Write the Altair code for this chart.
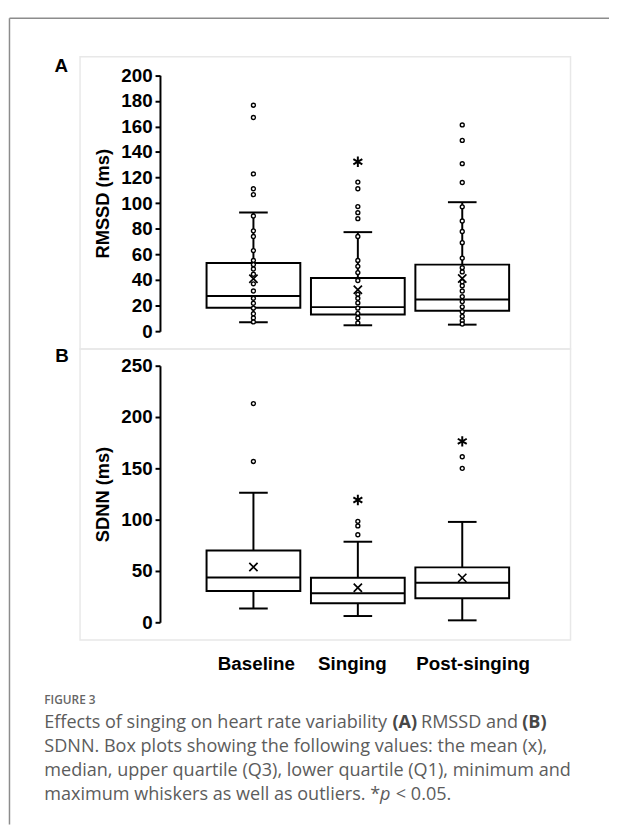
import altair as alt
import pandas as pd

categories = ["Baseline", "Singing", "Post-singing"]

# ---------- Panel A: RMSSD (ms) ----------
rmssd_min = [7.0, 4.6, 5.1]
rmssd_q1 = [18.3, 13.1, 15.9]
rmssd_median = [27.5, 18.8, 24.7]
rmssd_q3 = [53.2, 41.6, 52.0]
rmssd_max = [92.8, 77.4, 100.8]
rmssd_mean = [41.0, 32.4, 41.1]
rmssd_points_baseline = [90, 78.4, 74, 63, 55.3, 52, 48.6, 44.5, 37, 31.4, 25.7, 21.8, 18, 13.6, 10.3, 7.2]
rmssd_points_singing = [74, 55.3, 50.7, 45.8, 39.6, 28.8, 25.7, 22.1, 18, 13.9, 10.3, 6.4]
rmssd_points_post = [97.2, 86.1, 77.9, 69.2, 57.1, 49.6, 46.3, 38.6, 35.5, 31.4, 27, 23.1, 19, 15.2, 11.6, 8.2, 5.6]
rmssd_outliers_baseline = [176.6, 167.0, 122.9, 111.3, 106.7]
rmssd_outliers_singing = [116.5, 111.3, 97.4, 92.6, 87.9]
rmssd_outliers_post = [161.2, 149.1, 130.9, 116.2]
rmssd_sig_cat = ["Singing"]
rmssd_sig_val = [132.4]

# ---------- Panel B: SDNN (ms) ----------
sdnn_min = [13.5, 6.1, 1.9]
sdnn_q1 = [30.4, 18.6, 23.4]
sdnn_median = [43.6, 28.2, 38.5]
sdnn_q3 = [69.9, 43.3, 53.5]
sdnn_max = [126.3, 78.5, 97.8]
sdnn_mean = [53.8, 33.7, 43.3]
sdnn_outliers_baseline = [213.1, 156.7]
sdnn_outliers_singing = [98.4, 93.9, 85.3]
sdnn_outliers_post = [161.3, 150.0]
sdnn_sig_cat = ["Singing", "Post-singing"]
sdnn_sig_val = [119.2, 176.3]

rmssd_ticks = [0, 20, 40, 60, 80, 100, 120, 140, 160, 180, 200]
sdnn_ticks = [0, 50, 100, 150, 200, 250]


def summary(mn, q1, med, q3, mx, mean):
    return pd.DataFrame({"cat": categories, "lo": mn, "q1": q1, "med": med,
                         "q3": q3, "hi": mx, "mean": mean})


def points(*lists):
    rows = []
    for c, vals in zip(categories, lists):
        for v in vals:
            rows.append({"cat": c, "v": v})
    return pd.DataFrame(rows)


sumA = summary(rmssd_min, rmssd_q1, rmssd_median, rmssd_q3, rmssd_max, rmssd_mean)
sumB = summary(sdnn_min, sdnn_q1, sdnn_median, sdnn_q3, sdnn_max, sdnn_mean)
ptsA = points(rmssd_points_baseline, rmssd_points_singing, rmssd_points_post)
outA = points(rmssd_outliers_baseline, rmssd_outliers_singing, rmssd_outliers_post)
outB = points(sdnn_outliers_baseline, sdnn_outliers_singing, sdnn_outliers_post)
sigA = pd.DataFrame({"cat": rmssd_sig_cat, "v": rmssd_sig_val})
sigB = pd.DataFrame({"cat": sdnn_sig_cat, "v": sdnn_sig_val})

BOLD = "Liberation Sans"
CAP = "Open Sans"

label_shift = {
    "condition": [
        {"test": "datum.value == 'Baseline'", "value": 2.5},
        {"test": "datum.value == 'Singing'", "value": -6},
        {"test": "datum.value == 'Post-singing'", "value": 10.5},
    ],
    "value": 0,
}

xaxis = alt.Axis(orient="bottom", offset=-172, title=None, domain=False, ticks=False,
                 tickSize=0, labelPadding=0, labelAngle=0, grid=False,
                 labelFont=BOLD, labelFontWeight="bold", labelFontSize=19,
                 labelColor="black", labelOffset=label_shift)
X = alt.X("cat:N", sort=categories, axis=xaxis,
          scale=alt.Scale(type="point", domain=categories, range=[248.7, 460.3], padding=0))


def yaxis(title, vals):
    return alt.Axis(orient="left", offset=-154, values=vals, title=title, grid=False,
                    domainColor="black", domainWidth=2, tickColor="black", tickWidth=2,
                    tickSize=5, labelFont=BOLD, labelFontWeight="bold", labelFontSize=19,
                    labelColor="black", labelPadding=3, labelOverlap=False,
                    titleFont=BOLD, titleFontWeight="bold", titleFontSize=18.5,
                    titleColor="black", titlePadding=8)


X_SHAPE = "M-1,-1L1,1M-1,1L1,-1"
STAR = "M0,-1L0,1M-0.866,-0.5L0.866,0.5M-0.866,0.5L0.866,-0.5"
LW = 2


def panel(sumdf, outdf, sigdf, ptsdf, scale, axis):
    def Y(f):
        return alt.Y(f, scale=scale, axis=axis)
    base = alt.Chart(sumdf)
    layers = [
        base.mark_rule(color="black", strokeWidth=LW).encode(x=X, y=Y("lo:Q"), y2="hi:Q"),
        base.mark_bar(size=95, fill="white", stroke="black", strokeWidth=LW, opacity=1)
            .encode(x=X, y=Y("q1:Q"), y2="q3:Q"),
        base.mark_tick(size=95, thickness=LW, color="black", opacity=1).encode(x=X, y=Y("med:Q")),
        base.mark_tick(size=29, thickness=LW, color="black", opacity=1).encode(x=X, y=Y("lo:Q")),
        base.mark_tick(size=29, thickness=LW, color="black", opacity=1).encode(x=X, y=Y("hi:Q")),
    ]
    circ = dict(shape="circle", size=16, filled=True, fill="white", stroke="black",
                strokeWidth=1.4, opacity=1)
    if ptsdf is not None:
        layers.append(alt.Chart(ptsdf).mark_point(**circ).encode(x=X, y=Y("v:Q")))
    layers.append(alt.Chart(outdf).mark_point(**circ).encode(x=X, y=Y("v:Q")))
    layers.append(base.mark_point(shape=X_SHAPE, size=70, filled=False, stroke="black",
                                  strokeWidth=1.7, opacity=1).encode(x=X, y=Y("mean:Q")))
    layers.append(alt.Chart(sigdf).mark_point(shape=STAR, size=110, filled=False,
                                              stroke="black", strokeWidth=2, opacity=1)
                  .encode(x=X, y=Y("v:Q")))
    return alt.layer(*layers)


scaleA = alt.Scale(domain=[0, 200], range=[322, 62.7], nice=False, zero=False)
scaleB = alt.Scale(domain=[0, 250], range=[617, 357], nice=False, zero=False)
panelA = panel(sumA, outA, sigA, ptsA, scaleA, yaxis("RMSSD (ms)", rmssd_ticks))
panelB = panel(sumB, outB, sigB, None, scaleB, yaxis("SDNN (ms)", sdnn_ticks))

ONE = alt.Data(values=[{}])


def rect(x1, x2, y1, y2, color, width):
    return alt.Chart(ONE).mark_rect(fill=None, stroke=color, strokeWidth=width).encode(
        x=alt.value(x1), x2=alt.value(x2), y=alt.value(y1), y2=alt.value(y2))


def line(x1, x2, y1, y2, color, width):
    return alt.Chart(ONE).mark_rule(color=color, strokeWidth=width).encode(
        x=alt.value(x1), x2=alt.value(x2), y=alt.value(y1), y2=alt.value(y2))


CAPSIZE = 18.3
CAPCOL = "#5c5c5c"


def txt(s, x, y, font=CAP, size=CAPSIZE, weight="normal", color=CAPCOL, style="normal",
        align="left"):
    return alt.Chart(ONE).mark_text(text=s, align=align, baseline="alphabetic", font=font,
                                    fontSize=size, fontWeight=weight, color=color,
                                    fontStyle=style).encode(x=alt.value(x), y=alt.value(y))


decor = [
    line(1.5, 609, 5, 5, "#8c8c8c", 1.5),
    line(1.5, 1.5, 5, 822, "#8c8c8c", 1.5),
    rect(73, 570, 44, 340, "#e8e8e8", 1.5),
    rect(73, 570, 340, 635, "#e8e8e8", 1.5),
]

L1, L2, L3, L4 = 724.3, 748.7, 773, 797.4
texts = [
    txt("A", 47, 59.7, font=BOLD, size=19, weight="bold", color="black"),
    txt("B", 48, 353, font=BOLD, size=19, weight="bold", color="black"),
    txt("FIGURE 3", 36.8, 700.3, size=12, weight=600, color="#666666"),
    txt("Effects of singing on heart rate variability", 36.8, L1),
    txt("(A)", 389.5, L1, weight="bold", color="#474747"),
    txt("RMSSD and", 418.5, L1),
    txt("(B)", 521, L1, weight="bold", color="#474747"),
    txt("SDNN. Box plots showing the following values: the mean (x),", 36.8, L2),
    txt("median, upper quartile (Q3), lower quartile (Q1), minimum and", 36.8, L3),
    txt("maximum whiskers as well as outliers. *", 36.8, L4),
    txt("p", 377, L4, style="italic"),
    txt("< 0.05.", 393, L4),
]

chart = alt.layer(*decor, panelA, panelB, *texts).resolve_scale(y="independent").properties(
    width=609, height=822, autosize=alt.AutoSizeParams(type="none"), padding=0,
    background="white"
).configure_view(stroke=None)

chart.save("out.html", embed_options={"renderer": "svg", "actions": False})
